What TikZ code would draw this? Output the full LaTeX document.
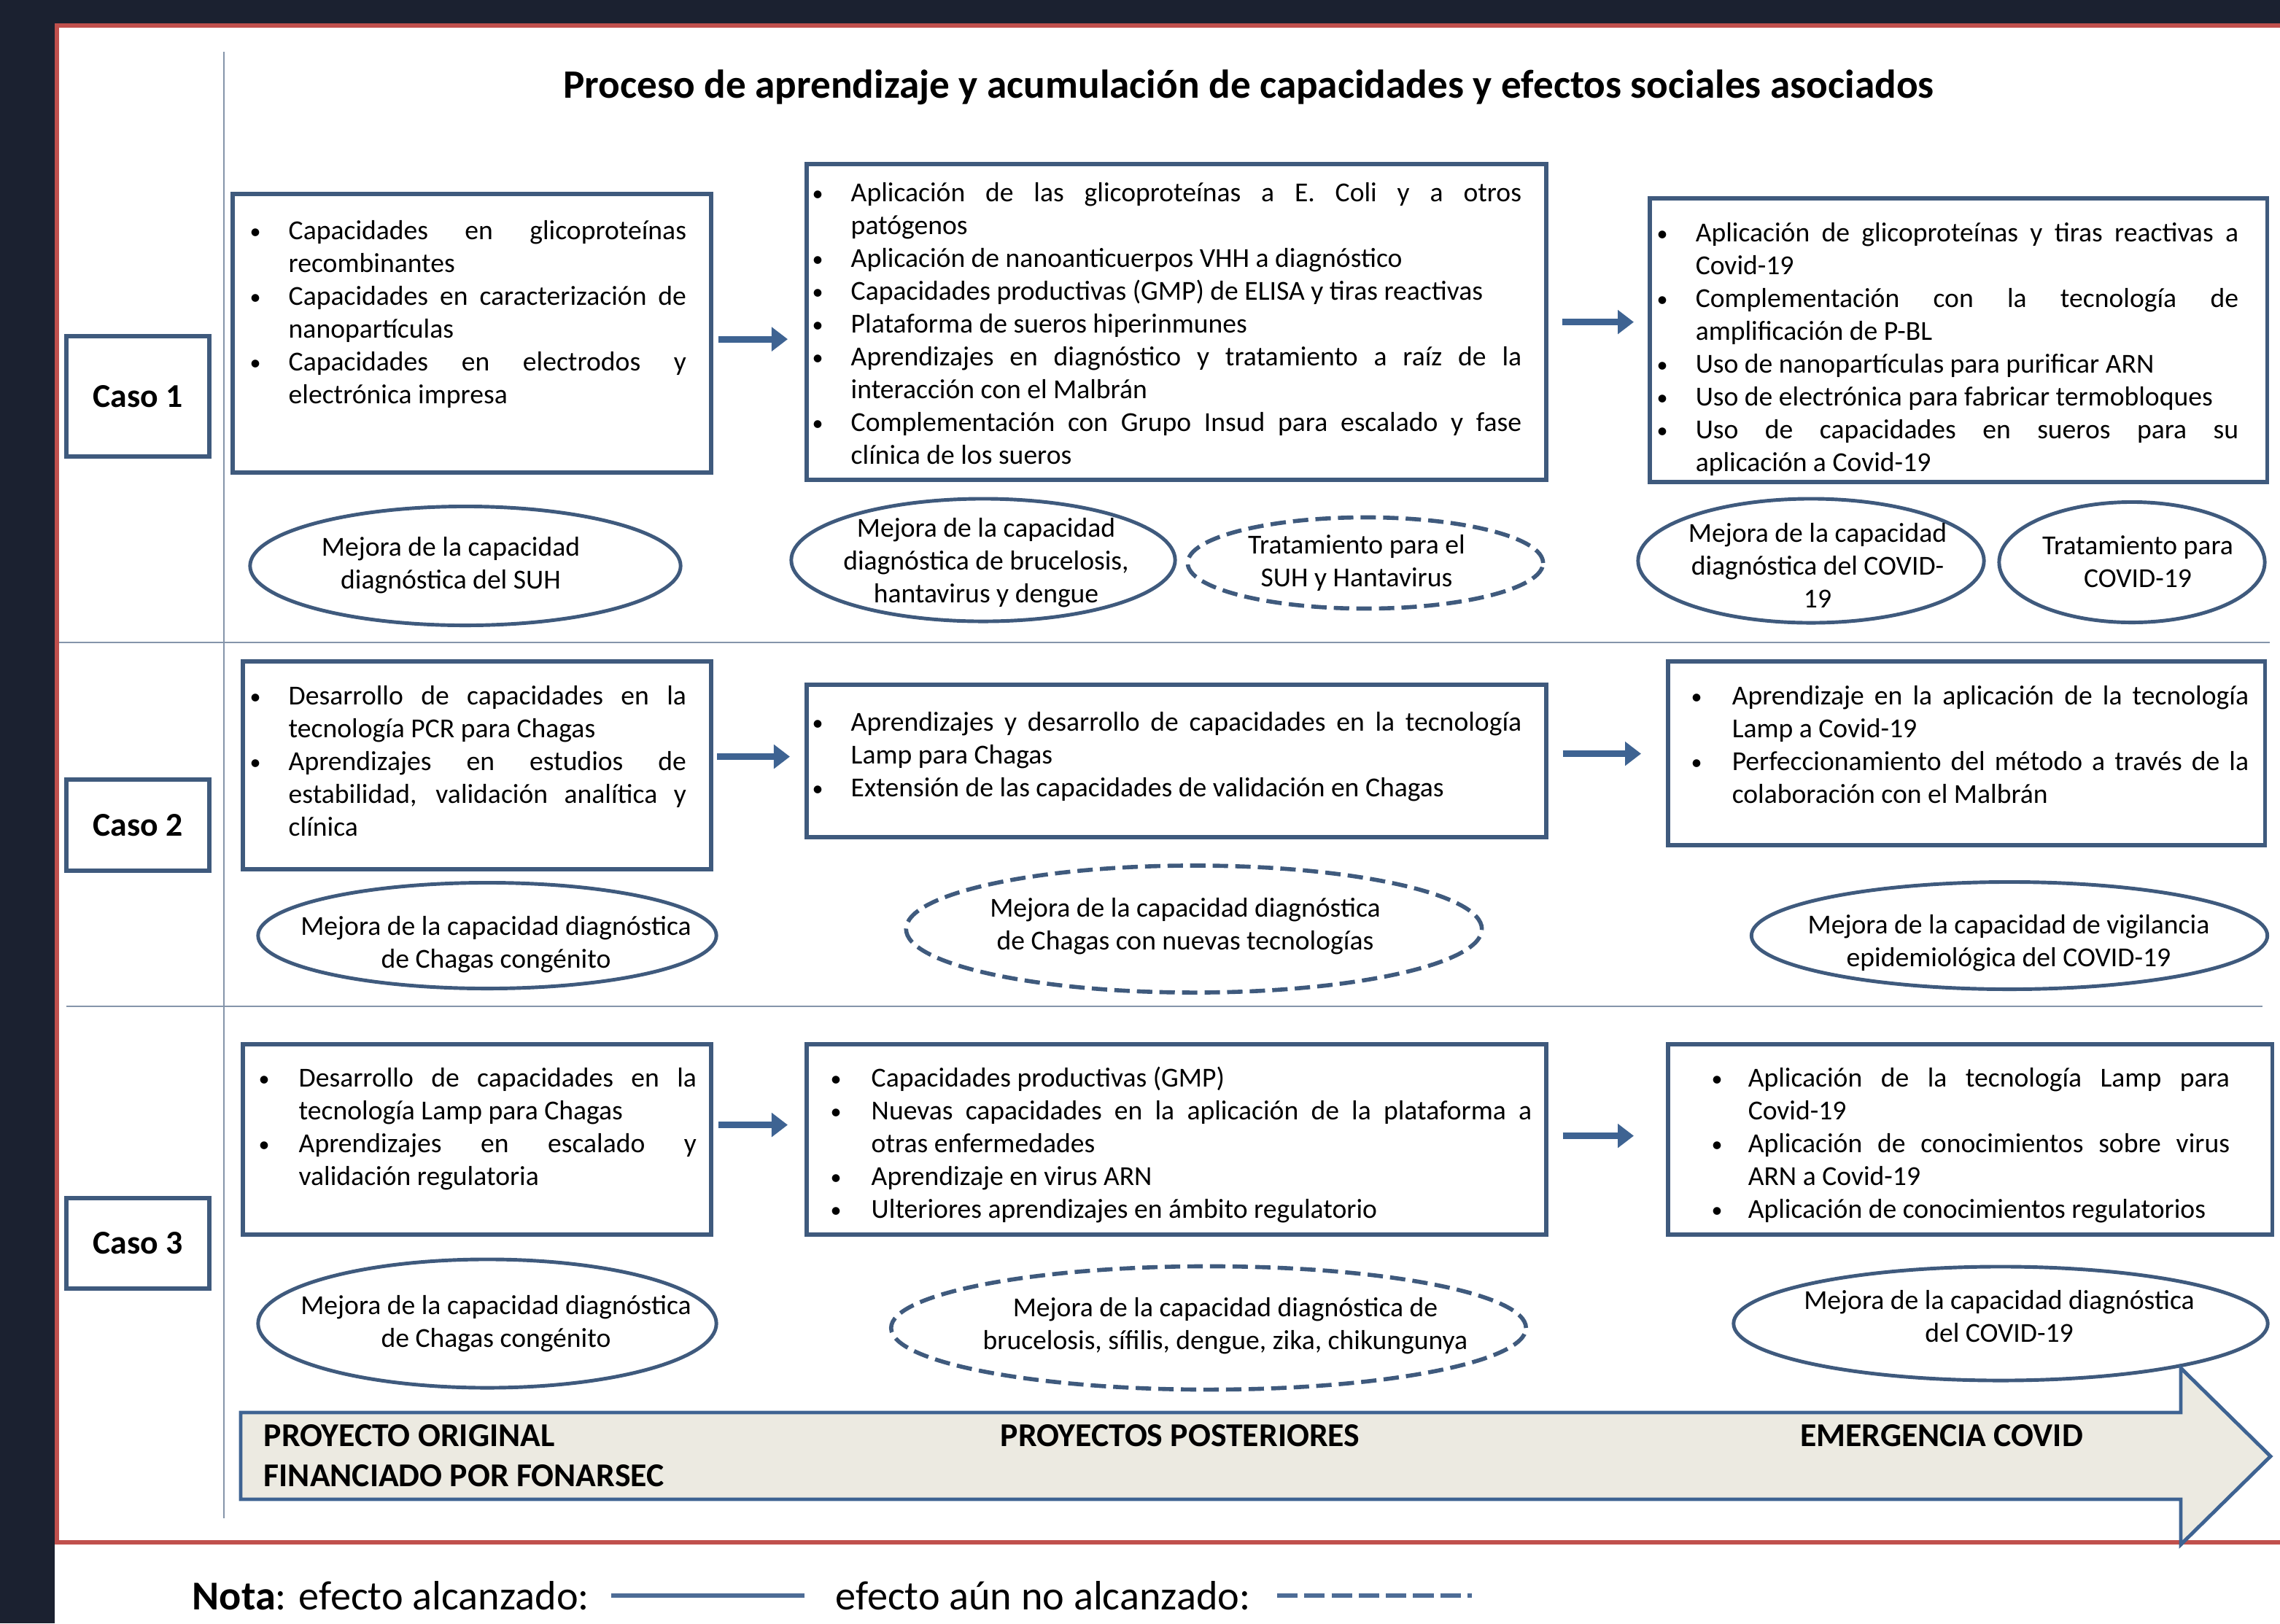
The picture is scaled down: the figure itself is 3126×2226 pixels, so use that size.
\documentclass[tikz,border=0pt]{standalone}
\usepackage{fontspec}
\setmainfont{Carlito}
\usetikzlibrary{arrows.meta,shapes.geometric,calc}

\definecolor{fondo}{HTML}{1B2130}
\definecolor{marco}{HTML}{C0504D}
\definecolor{borde}{HTML}{3F5A7D}
\definecolor{azul}{HTML}{3E6392}
\definecolor{divisor}{HTML}{8595AA}
\definecolor{beige}{HTML}{ECEAE1}
\definecolor{leyenda}{HTML}{4D6C96}

% lista con viñetas
\newenvironment{vinetas}[1]{\begin{list}{\raisebox{0.4pt}{\scalebox{0.8}{\textbullet}}}{%
  \setlength{\leftmargin}{#1}\setlength{\labelwidth}{#1}\setlength{\labelsep}{0pt}%
  \setlength{\itemsep}{0pt}\setlength{\parsep}{0pt}\setlength{\topsep}{0pt}%
  \setlength{\partopsep}{0pt}\renewcommand{\makelabel}[1]{##1\hfil}}}{\end{list}}

\newcommand{\cuerpo}{\fontsize{10.7}{12.8}\selectfont}
\tolerance=10000
\hyphenpenalty=10000
\exhyphenpenalty=10000

\tikzset{
  caja/.style={draw=borde, line width=1.7pt, fill=white, anchor=north west, inner sep=0pt},
  caso/.style={caja, minimum width=1.96cm, font=\fontsize{13}{15}\selectfont\bfseries},
  lista/.style={anchor=north west, inner sep=0pt, text width=#1, align=justify, font=\cuerpo},
  efecto/.style={ellipse, draw=borde, line width=1.4pt, inner sep=0pt},
  pendiente/.style={efecto, line width=1.6pt, dash pattern=on 6pt off 2.8pt},
  textoefecto/.style={align=center, inner sep=0pt, font=\cuerpo},
  flecha/.style={draw=azul, line width=2.6pt, -{Triangle[length=2.2mm, width=3.2mm]}},
  divisor/.style={draw=divisor, line width=0.8pt},
  etapa/.style={inner sep=0pt, align=left, font=\fontsize{13}{15.7}\selectfont\bfseries}
}

\begin{document}
\begin{tikzpicture}[x=0.01cm, y=-0.01cm]
  %fondo y marco
  \fill[fondo] (0,0) rectangle (3126,2226);
  \fill[white] (75,32) rectangle (3126,2226);
  \useasboundingbox (0,0) rectangle (3126,2226);
  \draw[marco, line width=1.7pt] (3126,35) -- (78,35) -- (78,2115) -- (3126,2115);

  \node[font=\fontsize{15.7}{18}\selectfont\bfseries] (titulo) at (1712,120) {Proceso de aprendizaje y acumulación de capacidades y efectos sociales asociados};

  %divisiones
  \draw[divisor] (307,71) -- (307,2082);
  \draw[divisor] (81,881) -- (3112,881);
  \draw[divisor] (91,1380) -- (3102,1380);

  %%%% CASOS
  \node[caso, minimum height=1.65cm] (caso1) at (88,458) {Caso 1};
  \node[caso, minimum height=1.25cm] (caso2) at (88,1066) {Caso 2};
  \node[caso, minimum height=1.24cm] (caso3) at (88,1640) {Caso 3};

  %%%% CASO 1
  \node[caja, minimum width=6.56cm, minimum height=3.82cm] (orig1) at (316,263) {};
  \node[lista=5.98cm] at (342,283) {\begin{vinetas}{0.53cm}
    \item Capacidades en glicoproteínas \linebreak recombinantes
    \item Capacidades en caracterización de \linebreak nanopartículas
    \item Capacidades en electrodos y \linebreak electrónica impresa
  \end{vinetas}};
  \node[caja, minimum width=10.13cm, minimum height=4.33cm] (post1) at (1103,222) {};
  \node[lista=9.72cm] at (1113,231) {\begin{vinetas}{0.53cm}
    \item Aplicación de las glicoproteínas a E. Coli y a otros \linebreak patógenos
    \item Aplicación de nanoanticuerpos VHH a diagnóstico
    \item Capacidades productivas (GMP) de ELISA y tiras reactivas
    \item Plataforma de sueros hiperinmunes
    \item Aprendizajes en diagnóstico y tratamiento a raíz de la \linebreak interacción con el Malbrán
    \item Complementación con Grupo Insud para escalado y fase \linebreak clínica de los sueros
  \end{vinetas}};
  \node[caja, minimum width=8.46cm, minimum height=3.89cm] (covid1) at (2259,269) {};
  \node[lista=7.97cm] at (2271,286) {\begin{vinetas}{0.53cm}
    \item Aplicación de glicoproteínas y tiras reactivas a \linebreak Covid-19
    \item Complementación con la tecnología de \linebreak amplificación de P-BL
    \item Uso de nanopartículas para purificar ARN
    \item Uso de electrónica para fabricar termobloques
    \item Uso de capacidades en sueros para su \linebreak aplicación a Covid-19
  \end{vinetas}};
  \draw[flecha] ($(orig1.east)+(7,8)$) -- ($(orig1.east -| post1.west)+(-23,8)$);
  \draw[flecha] ($(post1.east)+(19,0)$) -- ($(post1.east -| covid1.west)+(-19,0)$);

  \node[efecto, minimum width=5.9cm, minimum height=1.63cm] (suh) at (638,776) {};
  \node[textoefecto] at (618,775) {Mejora de la capacidad\\diagnóstica del SUH};
  \node[efecto, minimum width=5.26cm, minimum height=1.68cm] (bruc) at (1348,768) {};
  \node[textoefecto] at (1352,772) {Mejora de la capacidad\\diagnóstica de brucelosis,\\hantavirus y dengue};
  \node[pendiente, minimum width=4.87cm, minimum height=1.25cm] (trat1) at (1872,772) {};
  \node[textoefecto] at (1860,772) {Tratamiento para el\\SUH y Hantavirus};
  \node[efecto, minimum width=4.74cm, minimum height=1.7cm] (diag1) at (2483,769) {};
  \node[textoefecto] at (2492,775) {Mejora de la capacidad\\diagnóstica del COVID-\\19};
  \node[efecto, minimum width=3.64cm, minimum height=1.65cm] (trat2) at (2923,771) {};
  \node[textoefecto] at (2931,770) {Tratamiento para\\COVID-19};

  %%%% CASO 2
  \node[caja, minimum width=6.42cm, minimum height=2.85cm] (orig2) at (330,904) {};
  \node[lista=5.98cm] at (342,921) {\begin{vinetas}{0.53cm}
    \item Desarrollo de capacidades en la \linebreak tecnología PCR para Chagas
    \item Aprendizajes en estudios de \linebreak estabilidad, validación analítica y \linebreak clínica
  \end{vinetas}};
  \node[caja, minimum width=10.13cm, minimum height=2.09cm] (post2) at (1103,936) {};
  \node[lista=9.72cm] at (1113,957) {\begin{vinetas}{0.53cm}
    \item Aprendizajes y desarrollo de capacidades en la tecnología \linebreak Lamp para Chagas
    \item Extensión de las capacidades de validación en Chagas
  \end{vinetas}};
  \node[caja, minimum width=8.18cm, minimum height=2.52cm] (covid2) at (2284,904) {};
  \node[lista=7.64cm] at (2318,921) {\begin{vinetas}{0.56cm}
    \item Aprendizaje en la aplicación de la tecnología \linebreak Lamp a Covid-19
    \item Perfeccionamiento del método a través de la \linebreak colaboración con el Malbrán
  \end{vinetas}};
  \draw[flecha] ($(orig2.east)+(5,-12)$) -- ($(orig2.east -| post2.west)+(-20,-12)$);
  \draw[flecha] ($(post2.east)+(20,-10)$) -- ($(post2.east -| covid2.west)+(-34,-10)$);

  \node[efecto, minimum width=6.28cm, minimum height=1.45cm] (chag2) at (668,1283) {};
  \node[textoefecto] at (680,1295) {Mejora de la capacidad diagnóstica\\de Chagas congénito};
  \node[pendiente, minimum width=7.89cm, minimum height=1.74cm] (nuev) at (1637,1274) {};
  \node[textoefecto] at (1625,1270) {Mejora de la capacidad diagnóstica\\de Chagas con nuevas tecnologías};
  \node[efecto, minimum width=7.07cm, minimum height=1.47cm] (vigi) at (2755,1283) {};
  \node[textoefecto] at (2754,1293) {Mejora de la capacidad de vigilancia\\epidemiológica del COVID-19};

  %%%% CASO 3
  \node[caja, minimum width=6.42cm, minimum height=2.61cm] (orig3) at (330,1429) {};
  \node[lista=6cm] at (354,1445) {\begin{vinetas}{0.55cm}
    \item Desarrollo de capacidades en la \linebreak tecnología Lamp para Chagas
    \item Aprendizajes en escalado y \linebreak validación regulatoria
  \end{vinetas}};
  \node[caja, minimum width=10.13cm, minimum height=2.61cm] (post3) at (1103,1429) {};
  \node[lista=9.61cm] at (1138,1445) {\begin{vinetas}{0.56cm}
    \item Capacidades productivas (GMP)
    \item Nuevas capacidades en la aplicación de la plataforma a \linebreak otras enfermedades
    \item Aprendizaje en virus ARN
    \item Ulteriores aprendizajes en ámbito regulatorio
  \end{vinetas}};
  \node[caja, minimum width=8.28cm, minimum height=2.61cm] (covid3) at (2284,1429) {};
  \node[lista=7.1cm] at (2346,1445) {\begin{vinetas}{0.5cm}
    \item Aplicación de la tecnología Lamp para \linebreak Covid-19
    \item Aplicación de conocimientos sobre virus \linebreak ARN a Covid-19
    \item Aplicación de conocimientos regulatorios
  \end{vinetas}};
  \draw[flecha] ($(orig3.east)+(7,-20)$) -- ($(orig3.east -| post3.west)+(-23,-20)$);
  \draw[flecha] ($(post3.east)+(20,-5)$) -- ($(post3.east -| covid3.west)+(-44,-5)$);

  \node[efecto, minimum width=6.28cm, minimum height=1.76cm] (chag3) at (668,1815) {};
  \node[textoefecto] at (680,1815) {Mejora de la capacidad diagnóstica\\de Chagas congénito};
  \node[pendiente, minimum width=8.7cm, minimum height=1.69cm] (sifi) at (1657,1821) {};
  \node[textoefecto] at (1680,1818) {Mejora de la capacidad diagnóstica de\\brucelosis, sífilis, dengue, zika, chikungunya};
  \node[efecto, minimum width=7.32cm, minimum height=1.56cm] (diag3) at (2743,1815) {};
  \node[textoefecto] at (2741,1805) {Mejora de la capacidad diagnóstica\\del COVID-19};

  %%%% FLECHA GRANDE
  \draw[draw=azul, fill=beige, line width=1.4pt, line join=miter]
    (330,1937) -- (2990,1937) -- (2990,1876) -- (3113,1997) -- (2990,2118) -- (2990,2056) -- (330,2056) -- cycle;
  \node[etapa, anchor=west] (original) at (361,1996) {PROYECTO ORIGINAL\\FINANCIADO POR FONARSEC};
  \node[etapa] (posteriores) at (1618,1969) {PROYECTOS POSTERIORES};
  \node[etapa] (emergencia) at (2662,1969) {EMERGENCIA COVID};

  %nota
  \node[anchor=west, inner sep=0pt, font=\fontsize{16}{18}\selectfont] (nota) at (263,2188) {\textbf{Nota}: efecto alcanzado:};
  \node[anchor=west, inner sep=0pt, font=\fontsize{16}{18}\selectfont] (nota2) at (1145,2188) {efecto aún no alcanzado:};
  \draw[leyenda, line width=1.7pt] (838,2188) -- (1103,2188);
  \draw[leyenda, line width=1.7pt, dash pattern=on 8pt off 2.6pt] (1751,2188) -- (2018,2188);
\end{tikzpicture}
\end{document}
